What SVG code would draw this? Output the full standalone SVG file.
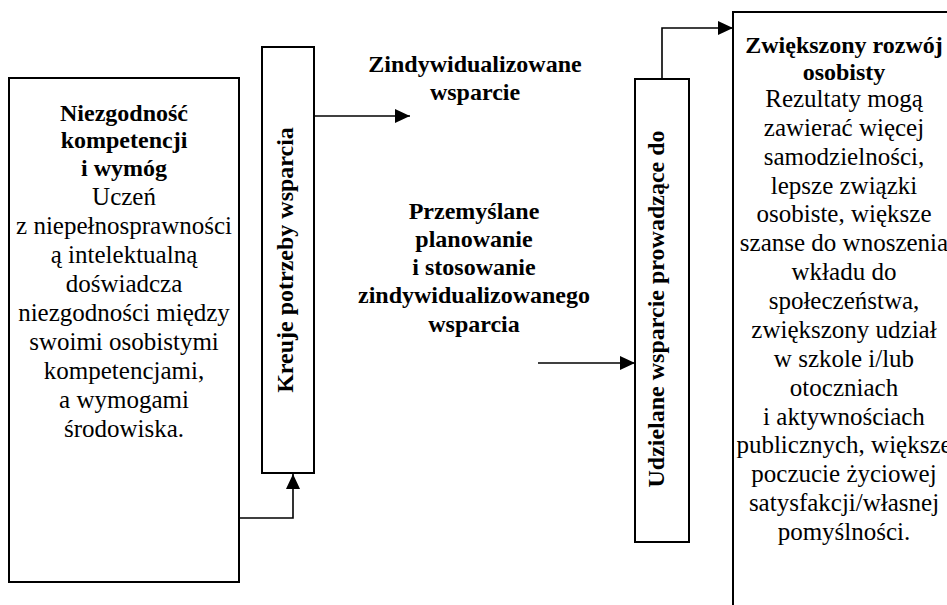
<svg xmlns="http://www.w3.org/2000/svg" width="947" height="605" viewBox="0 0 947 605">
<style>
  .box { fill: #ffffff; stroke: #000000; stroke-width: 2; }
  .conn { fill: none; stroke: #000000; stroke-width: 1.6; }
  text { font-family: "Liberation Serif", "Times New Roman", serif; fill: #000000; text-anchor: middle; }
  .b { font-weight: bold; font-size: 24px; }
  .r { font-size: 25px; }
</style>
<defs>
  <marker id="arr" markerUnits="userSpaceOnUse" markerWidth="16" markerHeight="16" refX="15" refY="7" orient="auto">
    <path d="M0,0 L15,7 L0,14 z" fill="#000000"/>
  </marker>
</defs>
<rect width="947" height="605" fill="#ffffff"/>

<g id="mismatch">
  <rect class="box" x="9" y="78" width="230" height="504"/>
  <text class="b" x="124" y="121">Niezgodność</text>
  <text class="b" x="124" y="148">kompetencji</text>
  <text class="b" x="124" y="176">i wymóg</text>
  <text class="r" x="124" y="205">Uczeń</text>
  <text class="r" x="124" y="234">z niepełnosprawności</text>
  <text class="r" x="124" y="263">ą intelektualną</text>
  <text class="r" x="124" y="292">doświadcza</text>
  <text class="r" x="124" y="321">niezgodności między</text>
  <text class="r" x="124" y="350">swoimi osobistymi</text>
  <text class="r" x="124" y="379">kompetencjami,</text>
  <text class="r" x="124" y="408">a wymogami</text>
  <text class="r" x="124" y="437">środowiska.</text>
</g>

<g id="creates-needs">
  <rect class="box" x="262" y="47" width="52" height="426"/>
  <text class="b" transform="translate(293,260) rotate(-90)" x="0" y="0">Kreuje potrzeby wsparcia</text>
</g>

<g id="individualized-support">
  <text class="b" x="475" y="72">Zindywidualizowane</text>
  <text class="b" x="475" y="100">wsparcie</text>
</g>

<g id="planning">
  <text class="b" x="474" y="219">Przemyślane</text>
  <text class="b" x="474" y="247">planowanie</text>
  <text class="b" x="474" y="275">i stosowanie</text>
  <text class="b" x="474" y="303">zindywidualizowanego</text>
  <text class="b" x="474" y="332">wsparcia</text>
</g>

<g id="support-provided">
  <rect class="box" x="635" y="79" width="54" height="463"/>
  <text class="b" transform="translate(664,309) rotate(-90)" x="0" y="0">Udzielane wsparcie prowadzące do</text>
</g>

<g id="outcomes">
  <rect class="box" x="733" y="12" width="240" height="700"/>
  <text class="b" x="844" y="53">Zwiększony rozwój</text>
  <text class="b" x="844" y="80">osobisty</text>
  <text class="r" x="844" y="107">Rezultaty mogą</text>
  <text class="r" x="844" y="136">zawierać więcej</text>
  <text class="r" x="844" y="165">samodzielności,</text>
  <text class="r" x="844" y="194">lepsze związki</text>
  <text class="r" x="844" y="222">osobiste, większe</text>
  <text class="r" x="844" y="251">szanse do wnoszenia</text>
  <text class="r" x="844" y="280">wkładu do</text>
  <text class="r" x="844" y="309">społeczeństwa,</text>
  <text class="r" x="844" y="338">zwiększony udział</text>
  <text class="r" x="844" y="367">w szkole i/lub</text>
  <text class="r" x="844" y="396">otoczniach</text>
  <text class="r" x="844" y="425">i aktywnościach</text>
  <text class="r" x="844" y="453">publicznych, większe</text>
  <text class="r" x="844" y="482">poczucie życiowej</text>
  <text class="r" x="844" y="511">satysfakcji/własnej</text>
  <text class="r" x="844" y="540">pomyślności.</text>
</g>

<g id="connectors">
  <polyline class="conn" points="239,518 293,518 293,474" marker-end="url(#arr)"/>
  <line class="conn" x1="314" y1="116" x2="410" y2="116" marker-end="url(#arr)"/>
  <line class="conn" x1="538" y1="363" x2="635" y2="363" marker-end="url(#arr)"/>
  <polyline class="conn" points="662,79 662,28 733,28" marker-end="url(#arr)"/>
</g>
</svg>
